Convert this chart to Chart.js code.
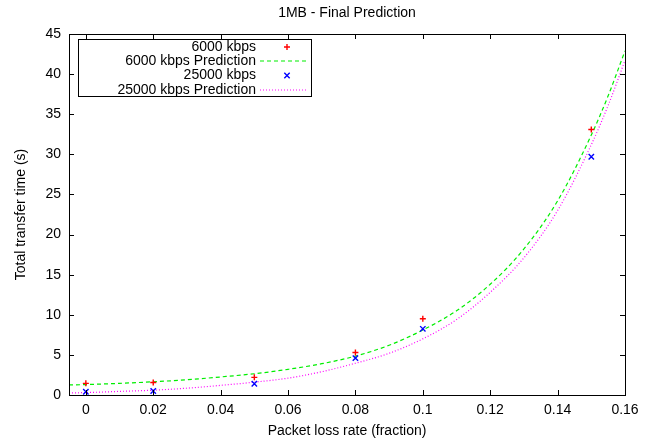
<!DOCTYPE html>
<html>
<head>
<meta charset="utf-8">
<script src="https://cdn.jsdelivr.net/npm/chart.js@4.4.1/dist/chart.umd.min.js"></script>
<style>
  html, body { margin: 0; padding: 0; background: #ffffff; }
  #wrap { width: 656px; height: 441px; }
</style>
</head>
<body>
<div id="wrap"><canvas id="c" width="656" height="441"></canvas></div>
<script>
// ---- data ----
const measuredX = [0, 0.02, 0.05, 0.08, 0.1, 0.15];
const kbps6000 = [1.45, 1.55, 2.2, 5.3, 9.5, 33.1];
const kbps25000 = [0.4, 0.5, 1.4, 4.6, 8.25, 29.7];

const predictionX = [-0.005, 0, 0.01, 0.02, 0.03, 0.04, 0.05, 0.06, 0.07, 0.08, 0.09, 0.1, 0.11, 0.12, 0.13, 0.14, 0.15, 0.155, 0.16];
const pred6000 =    [1.25, 1.3, 1.45, 1.65, 1.9, 2.25, 2.65, 3.2, 3.9, 4.85, 6.2, 8.1, 10.5, 13.8, 18.2, 24.2, 32.4, 37.3, 42.9];
const pred25000 =   [0.25, 0.3, 0.45, 0.6, 0.85, 1.2, 1.6, 2.1, 2.9, 3.96, 5.2, 7.0, 9.4, 12.8, 17.1, 23.0, 31.2, 36.1, 41.7];

const xTicks = [0, 0.02, 0.04, 0.06, 0.08, 0.1, 0.12, 0.14, 0.16];
const xTickLabels = ['0', '0.02', '0.04', '0.06', '0.08', '0.1', '0.12', '0.14', '0.16'];
const yTicks = [0, 5, 10, 15, 20, 25, 30, 35, 40, 45];
const yTickLabels = ['0', '5', '10', '15', '20', '25', '30', '35', '40', '45'];

const seriesLabels = ['6000 kbps', '6000 kbps Prediction', '25000 kbps', '25000 kbps Prediction'];
const chartTitle = '1MB - Final Prediction';
const xTitle = 'Packet loss rate (fraction)';
const yTitle = 'Total transfer time (s)';

const FONT = "'Liberation Sans', Arial, sans-serif";
const FS = 14;

function pairs(xs, ys) { return xs.map((x, i) => ({ x: x, y: ys[i] })); }

// gnuplot-style frame with inward ticks on all four sides
const framePlugin = {
  id: 'frame',
  afterDatasetsDraw(chart) {
    const { ctx, chartArea: a, scales } = chart;
    const tl = 5;
    ctx.save();
    ctx.strokeStyle = '#000';
    ctx.lineWidth = 1;
    ctx.beginPath();
    scales.x.ticks.forEach(t => {
      const px = Math.round(scales.x.getPixelForValue(t.value)) + 0.5;
      ctx.moveTo(px, a.bottom); ctx.lineTo(px, a.bottom - tl);
      ctx.moveTo(px, a.top); ctx.lineTo(px, a.top + tl);
    });
    scales.y.ticks.forEach(t => {
      const py = Math.round(scales.y.getPixelForValue(t.value)) + 0.5;
      ctx.moveTo(a.left, py); ctx.lineTo(a.left + tl, py);
      ctx.moveTo(a.right, py); ctx.lineTo(a.right - tl, py);
    });
    ctx.stroke();
    ctx.strokeRect(Math.round(a.left) + 0.5, Math.round(a.top) + 0.5,
                   Math.round(a.right - a.left), Math.round(a.bottom - a.top));
    ctx.restore();
  }
};

// gnuplot-style legend: right-aligned text, sample on the right, boxed
const legendPlugin = {
  id: 'gpLegend',
  afterDraw(chart) {
    const { ctx } = chart;
    const boxL = 78.5, boxT = 39.5, boxR = 311.5, boxB = 96.5;
    const textR = 256, sampleL = 260, sampleR = 306, markX = 287;
    const rowY = [47, 61, 75.5, 90];
    ctx.save();
    ctx.strokeStyle = '#000';
    ctx.lineWidth = 1;
    ctx.strokeRect(boxL, boxT, boxR - boxL, boxB - boxT);
    ctx.font = FS + 'px ' + FONT;
    ctx.textAlign = 'right';
    ctx.textBaseline = 'middle';
    chart.data.datasets.forEach((ds, i) => {
      const y = rowY[i];
      ctx.fillStyle = '#000';
      ctx.fillText(ds.label, textR, y);
      ctx.strokeStyle = ds.borderColor;
      ctx.beginPath();
      if (ds.showLine) {
        ctx.lineWidth = ds.borderWidth;
        ctx.setLineDash(ds.borderDash || []);
        ctx.moveTo(sampleL, Math.round(y)); ctx.lineTo(sampleR, Math.round(y));
        ctx.stroke();
        ctx.setLineDash([]);
      } else if (ds.pointStyle === 'cross') {
        ctx.lineWidth = ds.pointBorderWidth;
        const r = ds.pointRadius;
        ctx.moveTo(markX - r, y); ctx.lineTo(markX + r, y);
        ctx.moveTo(markX, y - r); ctx.lineTo(markX, y + r);
        ctx.stroke();
      } else {
        ctx.lineWidth = ds.pointBorderWidth;
        const r = ds.pointRadius * Math.SQRT1_2;
        ctx.moveTo(markX - r, y - r); ctx.lineTo(markX + r, y + r);
        ctx.moveTo(markX - r, y + r); ctx.lineTo(markX + r, y - r);
        ctx.stroke();
      }
    });
    ctx.restore();
  }
};

new Chart(document.getElementById('c'), {
  type: 'scatter',
  data: {
    datasets: [
      {
        label: seriesLabels[0],
        data: pairs(measuredX, kbps6000),
        showLine: false,
        pointStyle: 'cross',
        pointRadius: 3,
        pointBorderWidth: 1.4,
        borderColor: '#ff0000',
        backgroundColor: '#ff0000',
        order: 1
      },
      {
        label: seriesLabels[1],
        data: pairs(predictionX, pred6000),
        showLine: true,
        pointRadius: 0,
        borderColor: '#00ee00',
        borderWidth: 1.2,
        borderDash: [4, 3],
        cubicInterpolationMode: 'monotone',
        fill: false,
        order: 3
      },
      {
        label: seriesLabels[2],
        data: pairs(measuredX, kbps25000),
        showLine: false,
        pointStyle: 'crossRot',
        pointRadius: 3.8,
        pointBorderWidth: 1.4,
        borderColor: '#0000ff',
        backgroundColor: '#0000ff',
        order: 0
      },
      {
        label: seriesLabels[3],
        data: pairs(predictionX, pred25000),
        showLine: true,
        pointRadius: 0,
        borderColor: '#ff00ff',
        borderWidth: 1.2,
        borderDash: [1, 2],
        cubicInterpolationMode: 'monotone',
        fill: false,
        order: 4
      }
    ]
  },
  options: {
    responsive: false,
    animation: false,
    layout: { padding: { left: 0, right: 31, top: 0, bottom: 0 } },
    plugins: {
      legend: { display: false },
      tooltip: { enabled: false },
      title: {
        display: true,
        text: chartTitle,
        fullSize: false,
        color: '#000',
        font: { family: FONT, size: FS, weight: 'normal', lineHeight: 1.2 },
        padding: { top: 4.6, bottom: 12.6 }
      }
    },
    scales: {
      x: {
        type: 'linear',
        min: -0.005,
        max: 0.16,
        afterBuildTicks: s => { s.ticks = xTicks.map(v => ({ value: v })); },
        afterFit: s => { s.height = 46; },
        grid: { display: false, drawTicks: false },
        border: { display: false },
        ticks: {
          color: '#000',
          padding: 7,
          maxRotation: 0,
          autoSkip: false,
          font: { family: FONT, size: FS },
          callback: (v) => { const i = xTicks.findIndex(t => Math.abs(t - v) < 1e-9); return i >= 0 ? xTickLabels[i] : ''; }
        },
        title: {
          display: true,
          text: xTitle,
          color: '#000',
          font: { family: FONT, size: FS, lineHeight: 1.2 },
          padding: { top: 0, bottom: 1.6 }
        }
      },
      y: {
        type: 'linear',
        min: 0,
        max: 45,
        afterBuildTicks: s => { s.ticks = yTicks.map(v => ({ value: v })); },
        afterFit: s => { s.width = 69; },
        grid: { display: false, drawTicks: false },
        border: { display: false },
        ticks: {
          color: '#000',
          padding: 8,
          autoSkip: false,
          font: { family: FONT, size: FS },
          callback: (v) => { const i = yTicks.indexOf(v); return i >= 0 ? yTickLabels[i] : ''; }
        },
        title: {
          display: true,
          text: yTitle,
          color: '#000',
          font: { family: FONT, size: FS, lineHeight: 1.2 },
          padding: { top: 12.6, bottom: 0 }
        }
      }
    }
  },
  plugins: [framePlugin, legendPlugin]
});
</script>
</body>
</html>
